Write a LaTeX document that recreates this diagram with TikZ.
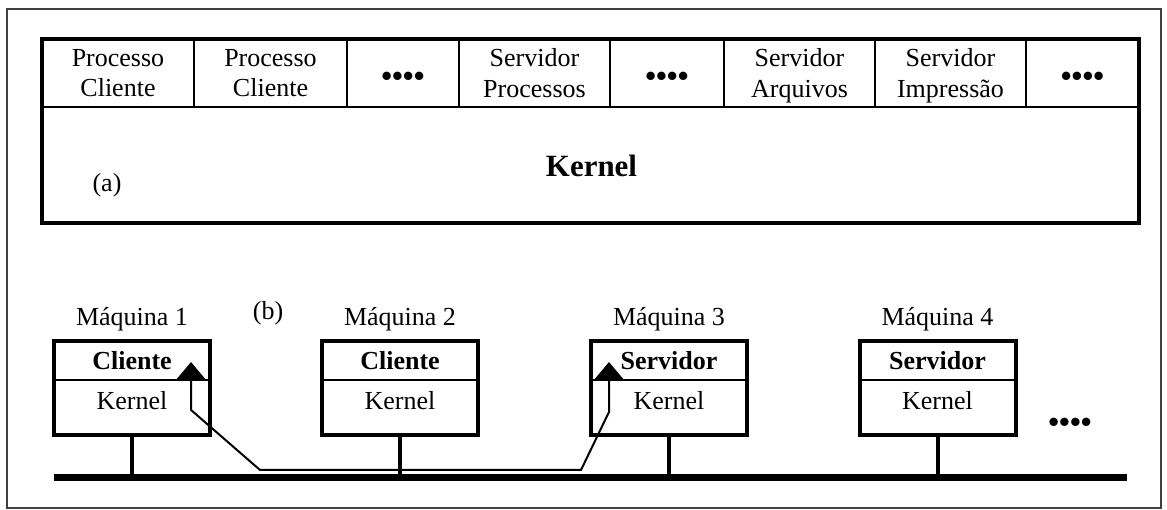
\documentclass[tikz,border=0pt]{standalone}
\usepackage{fontspec}
\setmainfont{Liberation Serif}
\usetikzlibrary{arrows.meta,positioning}

\newcommand{\figfont}{\fontsize{14.8}{17.6}\selectfont}
\newcommand{\dotfont}{\fontsize{17.5}{20}\selectfont\bfseries}

\begin{document}
\begin{tikzpicture}[
    font=\figfont,
    cell/.style={rectangle, draw=black, line width=0.04cm, outer sep=0pt, align=center,
                 minimum height=1.36cm, text depth=0pt},
    dotcell/.style={cell, font=\dotfont, text height=1.5em, text depth=0pt},
    heavy/.style={draw=black, line width=0.08cm},
    mtop/.style={cell, minimum width=3.12cm, minimum height=0.78cm, font=\figfont\bfseries},
    mbot/.style={cell, minimum width=3.12cm, minimum height=1.10cm},
    stub/.style={line width=0.08cm},
    bus/.style={line width=0.14cm},
    msg/.style={{Triangle[length=0.34cm, width=0.56cm]}-{Triangle[length=0.34cm, width=0.56cm]},
                line width=0.04cm}
]
\useasboundingbox (0,0) rectangle (23.34,10.2);

% ---- Outer frame ----
\draw[black!75, line width=0.04cm] (0.14,0.04) rectangle (23.21,10.02);

% ---- (a) processes on top of the kernel ----
\node[cell, minimum width=3.04cm] (pc1) at (2.36,8.74) {Processo\\Cliente};
\node[cell, minimum width=3.06cm, right=0pt of pc1] (pc2) {Processo\\Cliente};
\node[dotcell, minimum width=2.24cm, right=0pt of pc2] (etc1) {••••};
\node[cell, minimum width=3.02cm, right=0pt of etc1] (sproc) {Servidor\\Processos};
\node[dotcell, minimum width=2.28cm, right=0pt of sproc] (etc2) {••••};
\node[cell, minimum width=3.02cm, right=0pt of etc2] (sarq) {Servidor\\Arquivos};
\node[cell, minimum width=3.02cm, right=0pt of sarq] (simp) {Servidor\\Impressão};
\node[dotcell, minimum width=2.26cm, right=0pt of simp] (etc3) {••••};

% kernel box round the whole row
\node[heavy, minimum width=21.94cm, minimum height=3.68cm] (kern) at (11.81,7.58) {};
\node[font=\fontsize{17.6}{20}\selectfont\bfseries] (kernlbl) at (11.83,6.88) {Kernel};
\node (lbla) at (2.14,6.5) {(a)};

% ---- (b) machines on the network ----
\node (lblb) at (5.36,3.93) {(b)};

% Machine 1
\node[mtop] (cli1) at (2.64,2.99) {Cliente};
\node[mbot, below=0pt of cli1] (ker1) {};
\node[below=0.1cm of ker1.north] (kl1) {Kernel};
\draw[heavy] (cli1.north west) rectangle (ker1.south east);
\node[above=0.08cm of cli1] (m1) {Máquina 1};

% Machine 2
\node[mtop] (cli2) at (8.0,2.99) {Cliente};
\node[mbot, below=0pt of cli2] (ker2) {};
\node[below=0.1cm of ker2.north] (kl2) {Kernel};
\draw[heavy] (cli2.north west) rectangle (ker2.south east);
\node[above=0.08cm of cli2] (m2) {Máquina 2};

% Machine 3
\node[mtop] (srv3) at (13.38,2.99) {Servidor};
\node[mbot, below=0pt of srv3] (ker3) {};
\node[below=0.1cm of ker3.north] (kl3) {Kernel};
\draw[heavy] (srv3.north west) rectangle (ker3.south east);
\node[above=0.08cm of srv3] (m3) {Máquina 3};

% Machine 4
\node[mtop] (srv4) at (18.75,2.99) {Servidor};
\node[mbot, below=0pt of srv4] (ker4) {};
\node[below=0.1cm of ker4.north] (kl4) {Kernel};
\draw[heavy] (srv4.north west) rectangle (ker4.south east);
\node[above=0.08cm of srv4] (m4) {Máquina 4};

\node[font=\dotfont] (more) at (21.4,1.70) {••••};

% ---- Network ----
\coordinate (busL) at (1.08,0.64);
\coordinate (busR) at (22.54,0.64);
\draw[bus] (busL) -- (busR);
\draw[stub] (ker1.south) -- (ker1.south |- busL);
\draw[stub] (ker2.south) -- (ker2.south |- busL);
\draw[stub] (ker3.south) -- (ker3.south |- busL);
\draw[stub] (ker4.south) -- (ker4.south |- busL);

% message between client and server
\coordinate (from) at ([xshift=-0.38cm, yshift=0.36cm]cli1.south east);
\coordinate (to) at ([xshift=0.36cm, yshift=0.36cm]srv3.south west);
\draw[msg] (from) -- ++(0,-0.96) -- ++(1.38,-1.2) -- (11.62,0.8) -- ++(0.56,1.16) -- (to);

\end{tikzpicture}
\end{document}
